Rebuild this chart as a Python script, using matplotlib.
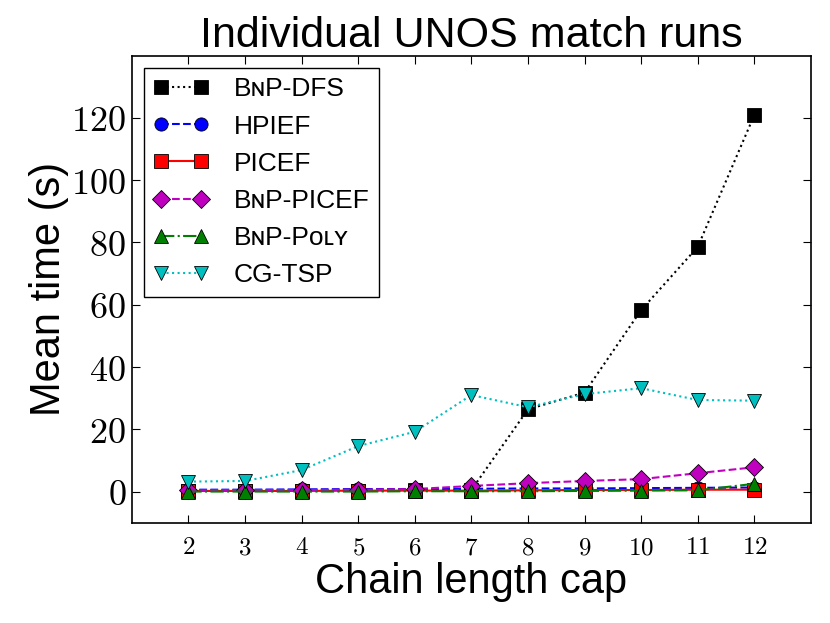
import matplotlib
matplotlib.use("Agg")
import matplotlib.pyplot as plt
from matplotlib.ticker import FuncFormatter

# Data
caps = [2, 3, 4, 5, 6, 7, 8, 9, 10, 11, 12]
bnp_dfs = [0.3, 0.3, 0.3, 0.3, 0.4, 0.5, 26.4, 31.8, 58.3, 78.6, 121.0]
hpief = [0.6, 0.6, 0.7, 0.8, 0.8, 0.9, 1.0, 1.0, 1.1, 1.2, 1.3]
picef = [0.2, 0.2, 0.2, 0.3, 0.3, 0.3, 0.4, 0.5, 0.5, 0.6, 0.6]
bnp_picef = [0.4, 0.5, 0.5, 0.6, 0.8, 1.8, 2.7, 3.4, 4.0, 5.9, 7.8]
bnp_poly = [0.0, 0.0, 0.0, 0.0, 0.1, 0.1, 0.1, 0.2, 0.3, 0.4, 2.5]
cg_tsp = [3.2, 3.4, 6.9, 14.6, 19.2, 31.0, 27.1, 31.3, 33.2, 29.4, 29.2]

labels = ["B\u0274P-DFS", "HPIEF", "PICEF", "B\u0274P-PICEF",
          "B\u0274P-P\u1d0f\u029f\u028f", "CG-TSP"]

plt.rcParams["font.family"] = ["Liberation Sans", "DejaVu Sans"]
plt.rcParams["mathtext.fontset"] = "cm"

fig = plt.figure(figsize=(8.3, 6.23), dpi=100)
ax = fig.add_axes([0.1587, 0.161, 0.8184, 0.7496])

ms = 9.5
ax.plot(caps, bnp_dfs, color="k", ls=":", marker="s", ms=ms, mec="k", mew=0.6, label=labels[0])
ax.plot(caps, hpief, color=(0, 0, 1), ls="--", marker="o", ms=ms, mec="k", mew=0.6, label=labels[1])
ax.plot(caps, picef, color=(1, 0, 0), ls="-", marker="s", ms=ms, mec="k", mew=0.6, label=labels[2])
ax.plot(caps, bnp_picef, color=(0.75, 0, 0.75), ls="--", marker="D", ms=ms, mec="k", mew=0.6, label=labels[3])
ax.plot(caps, bnp_poly, color=(0, 0.5, 0), ls="-.", marker="^", ms=ms, mec="k", mew=0.6, label=labels[4])
ax.plot(caps, cg_tsp, color=(0, 0.75, 0.75), ls=":", marker="v", ms=ms, mec="k", mew=0.6, label=labels[5])

ax.set_xlim(1, 13)
ax.set_ylim(-10, 140)
ax.set_xticks(caps)
ax.set_yticks([0, 20, 40, 60, 80, 100, 120])
fmt = FuncFormatter(lambda v, p: r"$%d$" % v)
ax.xaxis.set_major_formatter(fmt)
ax.yaxis.set_major_formatter(fmt)
ax.tick_params(axis="both", direction="in", top=True, right=True, length=6, width=0.8)
ax.tick_params(axis="x", labelsize=18, pad=9)
ax.tick_params(axis="y", labelsize=26, pad=4)
for s in ax.spines.values():
    s.set_linewidth(1.2)

ax.set_title("Individual UNOS match runs", fontsize=31, pad=6)
ax.set_xlabel("Chain length cap", fontsize=30, labelpad=2)
ax.set_ylabel("Mean time (s)", fontsize=30, labelpad=2)

leg = ax.legend(loc="upper left", numpoints=2, fontsize=19, frameon=True,
                fancybox=False, framealpha=1, edgecolor="k",
                labelspacing=0.5, handlelength=2.1, handletextpad=0.95,
                borderpad=0.35, borderaxespad=0.47)
leg.get_frame().set_linewidth(1.0)

fig.savefig("out.png", dpi=100)
